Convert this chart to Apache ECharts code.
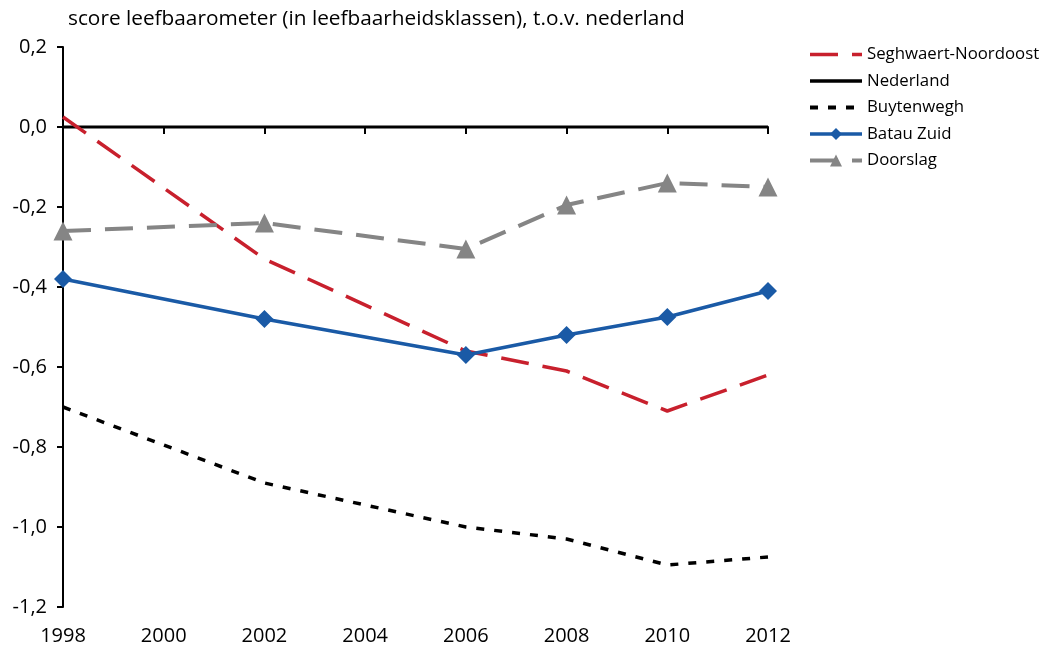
<!DOCTYPE html>
<html>
<head>
<meta charset="utf-8">
<script src="https://cdn.jsdelivr.net/npm/echarts@6/dist/echarts.min.js"></script>
<style>
  html, body { margin: 0; padding: 0; background: #fff; }
  #chart { width: 1049px; height: 651px; }
</style>
</head>
<body>
<div id="chart"></div>
<script>
// Leefbaarometer scores per wijk, relative to Nederland (0)
var years = [1998, 2002, 2006, 2008, 2010, 2012];
var seghwaert = [0.025, -0.33, -0.56, -0.61, -0.71, -0.62];
var nederland = [0, 0, 0, 0, 0, 0];
var buytenwegh = [-0.70, -0.89, -1.00, -1.03, -1.095, -1.075];
var batauZuid = [-0.38, -0.48, -0.57, -0.52, -0.475, -0.41];
var doorslag = [-0.26, -0.24, -0.305, -0.195, -0.14, -0.15];
var xTicks = [1998, 2000, 2002, 2004, 2006, 2008, 2010, 2012];
var yTicks = [0.2, 0.0, -0.2, -0.4, -0.6, -0.8, -1.0, -1.2];

function pairs(vals) {
  return years.map(function (y, i) { return [y, vals[i]]; });
}

var font = '"Open Sans", "Noto Sans", sans-serif';
var chart = echarts.init(document.getElementById('chart'));

var hideSym = { opacity: 0 };

chart.setOption({
  animation: false,
  textStyle: { fontFamily: font },
  title: {
    text: 'score leefbaarometer (in leefbaarheidsklassen), t.o.v. nederland',
    left: 63, top: 4,
    textStyle: { fontSize: 20.8, fontWeight: 'normal', color: '#000', fontFamily: font }
  },
  legend: {
    orient: 'vertical',
    left: 803, top: 41,
    itemWidth: 52, itemHeight: 15, itemGap: 9.5,
    textStyle: { fontSize: 16.8, color: '#000', fontFamily: font },
    data: [
      { name: 'Seghwaert-Noordoost', itemStyle: hideSym, lineStyle: { width: 3.5 } },
      { name: 'Nederland', itemStyle: hideSym, lineStyle: { width: 3.5 } },
      { name: 'Buytenwegh', itemStyle: hideSym, lineStyle: { width: 4 } },
      { name: 'Batau Zuid', lineStyle: { width: 3.5 } },
      { name: 'Doorslag', lineStyle: { width: 4 } }
    ]
  },
  grid: { left: 63, right: 281, top: 47, bottom: 44, containLabel: false },
  xAxis: {
    type: 'value', min: 1998, max: 2012, interval: 2,
    axisLine: { show: true, lineStyle: { color: '#000', width: 2 } },
    axisTick: { show: true, inside: false, length: 7, lineStyle: { color: '#000', width: 2 } },
    axisLabel: {
      color: '#000', fontSize: 20, margin: 19, fontFamily: font,
      customValues: xTicks,
      formatter: function (v) { return String(v); }
    },
    splitLine: { show: false }
  },
  yAxis: {
    type: 'value', min: -1.2, max: 0.2, interval: 0.2,
    axisLine: { show: true, lineStyle: { color: '#000', width: 2 } },
    axisTick: { show: true, inside: false, length: 6, lineStyle: { color: '#000', width: 2 } },
    axisLabel: {
      color: '#000', fontSize: 20, margin: 16, fontFamily: font,
      formatter: function (v) {
        var t = yTicks.reduce(function (a, b) { return Math.abs(b - v) < Math.abs(a - v) ? b : a; });
        return t.toFixed(1).replace('.', ',');
      }
    },
    splitLine: { show: false }
  },
  series: [
    {
      name: 'Seghwaert-Noordoost', type: 'line', data: pairs(seghwaert),
      symbol: 'none', z: 3,
      lineStyle: { color: '#c8202d', width: 3.5, type: [28, 14] },
      itemStyle: { color: '#c8202d' }
    },
    {
      name: 'Nederland', type: 'line', data: pairs(nederland),
      symbol: 'none', z: 2,
      lineStyle: { color: '#000', width: 3 },
      itemStyle: { color: '#000' }
    },
    {
      name: 'Buytenwegh', type: 'line', data: pairs(buytenwegh),
      symbol: 'none', z: 2,
      lineStyle: { color: '#000', width: 3.5, type: [8, 10] },
      itemStyle: { color: '#000' }
    },
    {
      name: 'Batau Zuid', type: 'line', data: pairs(batauZuid),
      symbol: 'diamond', symbolSize: 18, z: 4,
      lineStyle: { color: '#1a5aa6', width: 3.5 },
      itemStyle: { color: '#1a5aa6' }
    },
    {
      name: 'Doorslag', type: 'line', data: pairs(doorslag),
      symbol: 'triangle', symbolSize: 19, z: 3,
      lineStyle: { color: '#858585', width: 4, type: [28, 14] },
      itemStyle: { color: '#858585' }
    }
  ]
});
</script>
</body>
</html>
